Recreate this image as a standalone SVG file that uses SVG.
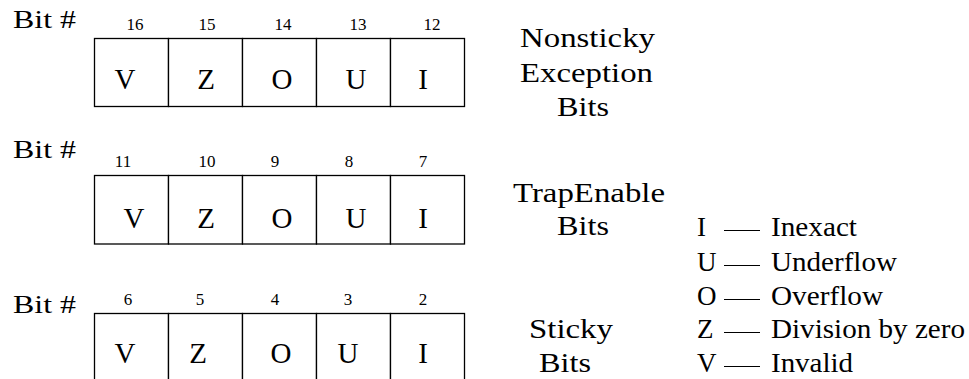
<svg xmlns="http://www.w3.org/2000/svg" width="969" height="379" viewBox="0 0 969 379">
<defs>
<style>
.cell{fill:#fff;stroke:#000;stroke-width:1.3}
.dash{stroke:#000;stroke-width:1.2}
</style>
</defs>
<rect width="969" height="379" fill="#fff"/>

<g id="register-nonsticky">
  <text x="13" y="28" font-family="'Liberation Serif', serif" font-size="26" textLength="63" lengthAdjust="spacingAndGlyphs">Bit #</text>
  <rect class="cell" x="94.5" y="38.5" width="74" height="68"/>
  <rect class="cell" x="168.5" y="38.5" width="74" height="68"/>
  <rect class="cell" x="242.5" y="38.5" width="74" height="68"/>
  <rect class="cell" x="316.5" y="38.5" width="74" height="68"/>
  <rect class="cell" x="390.5" y="38.5" width="74" height="68"/>
  <g font-family="'Liberation Serif', serif" font-size="17" text-anchor="middle">
  <text x="135" y="30">16</text>
  <text x="207" y="30">15</text>
  <text x="283" y="30">14</text>
  <text x="358" y="30">13</text>
  <text x="432" y="30">12</text>
  </g>
  <g font-family="'Liberation Serif', serif" font-size="29" text-anchor="middle">
  <text x="125" y="89">V</text>
  <text x="206" y="89">Z</text>
  <text x="282" y="89">O</text>
  <text x="356" y="89">U</text>
  <text x="423" y="89">I</text>
  </g>
</g>

<g id="register-trapenable">
  <text x="13" y="158" font-family="'Liberation Serif', serif" font-size="26" textLength="63" lengthAdjust="spacingAndGlyphs">Bit #</text>
  <rect class="cell" x="94.5" y="175.5" width="74" height="68.5"/>
  <rect class="cell" x="168.5" y="175.5" width="74" height="68.5"/>
  <rect class="cell" x="242.5" y="175.5" width="74" height="68.5"/>
  <rect class="cell" x="316.5" y="175.5" width="74" height="68.5"/>
  <rect class="cell" x="390.5" y="175.5" width="74" height="68.5"/>
  <g font-family="'Liberation Serif', serif" font-size="17" text-anchor="middle">
  <text x="123" y="167">11</text>
  <text x="207" y="167">10</text>
  <text x="275" y="167">9</text>
  <text x="349" y="167">8</text>
  <text x="423" y="167">7</text>
  </g>
  <g font-family="'Liberation Serif', serif" font-size="29" text-anchor="middle">
  <text x="134" y="228">V</text>
  <text x="206" y="228">Z</text>
  <text x="282" y="228">O</text>
  <text x="356" y="228">U</text>
  <text x="423" y="228">I</text>
  </g>
</g>

<g id="register-sticky">
  <text x="13" y="313" font-family="'Liberation Serif', serif" font-size="26" textLength="63" lengthAdjust="spacingAndGlyphs">Bit #</text>
  <rect class="cell" x="94.5" y="313.5" width="74" height="80"/>
  <rect class="cell" x="168.5" y="313.5" width="74" height="80"/>
  <rect class="cell" x="242.5" y="313.5" width="74" height="80"/>
  <rect class="cell" x="316.5" y="313.5" width="74" height="80"/>
  <rect class="cell" x="390.5" y="313.5" width="74" height="80"/>
  <g font-family="'Liberation Serif', serif" font-size="17" text-anchor="middle">
  <text x="128" y="305">6</text>
  <text x="200" y="305">5</text>
  <text x="275" y="305">4</text>
  <text x="348" y="305">3</text>
  <text x="423" y="305">2</text>
  </g>
  <g font-family="'Liberation Serif', serif" font-size="29" text-anchor="middle">
  <text x="125" y="363">V</text>
  <text x="198" y="363">Z</text>
  <text x="281" y="363">O</text>
  <text x="348" y="363">U</text>
  <text x="423" y="363">I</text>
  </g>
</g>

<g id="label-nonsticky" font-family="'Liberation Serif', serif" font-size="27">
  <text x="520" y="47" textLength="135" lengthAdjust="spacingAndGlyphs">Nonsticky</text>
  <text x="520" y="82" textLength="133" lengthAdjust="spacingAndGlyphs">Exception</text>
  <text x="557" y="116" textLength="52" lengthAdjust="spacingAndGlyphs">Bits</text>
</g>

<g id="label-trapenable" font-family="'Liberation Serif', serif" font-size="27">
  <text x="513" y="202" textLength="152" lengthAdjust="spacingAndGlyphs">TrapEnable</text>
  <text x="557" y="235" textLength="52" lengthAdjust="spacingAndGlyphs">Bits</text>
</g>

<g id="label-sticky" font-family="'Liberation Serif', serif" font-size="27">
  <text x="529" y="338" textLength="84" lengthAdjust="spacingAndGlyphs">Sticky</text>
  <text x="539" y="372" textLength="52" lengthAdjust="spacingAndGlyphs">Bits</text>
</g>

<g id="legend" font-family="'Liberation Serif', serif" font-size="27">
  <text x="697" y="236">I</text>
  <text x="697" y="271">U</text>
  <text x="697" y="305">O</text>
  <text x="697" y="338">Z</text>
  <text x="697" y="372">V</text>
  <text x="771" y="236" textLength="86" lengthAdjust="spacingAndGlyphs">Inexact</text>
  <text x="771" y="271" textLength="126" lengthAdjust="spacingAndGlyphs">Underflow</text>
  <text x="771" y="305" textLength="112" lengthAdjust="spacingAndGlyphs">Overflow</text>
  <text x="771" y="338" textLength="194" lengthAdjust="spacingAndGlyphs">Division by zero</text>
  <text x="771" y="372" textLength="82" lengthAdjust="spacingAndGlyphs">Invalid</text>
</g>

<g id="connectors">
  <line class="dash" x1="724" y1="230.5" x2="760" y2="230.5"/>
  <line class="dash" x1="724" y1="265.5" x2="760" y2="265.5"/>
  <line class="dash" x1="724" y1="299.5" x2="760" y2="299.5"/>
  <line class="dash" x1="724" y1="332.5" x2="760" y2="332.5"/>
  <line class="dash" x1="724" y1="366.5" x2="760" y2="366.5"/>
</g>
</svg>
